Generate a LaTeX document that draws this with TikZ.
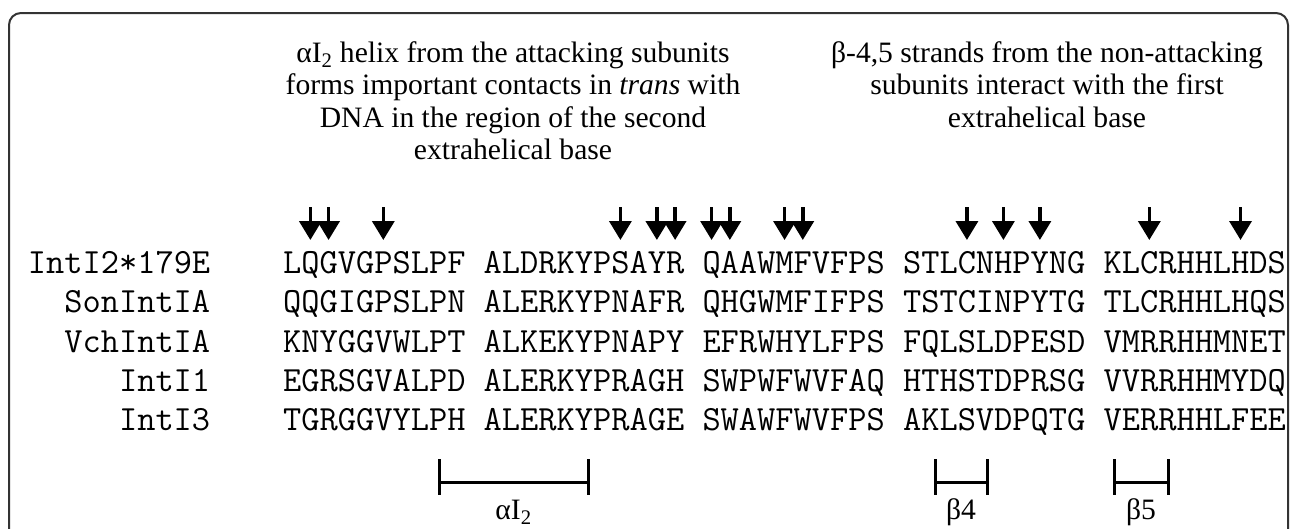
\documentclass[tikz,border=0pt]{standalone}
\usepackage{fontspec}
\setmainfont{Liberation Serif}
\usetikzlibrary{arrows.meta,positioning,calc}

\begin{document}
\begin{tikzpicture}[x=1pt,y=-1pt,node distance=39.25pt,>={Triangle[length=19pt,width=22pt]},
                    seq/.style={inner sep=0pt,font=\fontsize{35.4}{40}\ttfamily},
                    note/.style={inner sep=0pt,align=center,font=\fontsize{29.6}{32.5}\selectfont},
                    hit/.style={->,line width=3.5pt},
                    span/.style={line width=3pt}]
                    \useasboundingbox (0,0) rectangle (1290,528);
                    \draw[line width=2pt,black!80,rounded corners=12pt] (9,580) rectangle (1288,13);

                    % captions
                    \node[note,anchor=north] (capa) at (513,41) {αI\textsubscript{2} helix from the attacking subunits\\forms important contacts in \textit{trans} with\\DNA in the region of the second\\extrahelical base};
                    \node[note,anchor=north] (capb) at (1047,41) {β-4,5 strands from the non-attacking\\subunits interact with the first\\extrahelical base};

                    % alignment
                    \node[seq,anchor=base west] (s1) at (283,273.5) {LQGVGPSLPF ALDRKYPSAYR QAAWMFVFPS STLCNHPYNG KLCRHHLHDS};
                    \node[seq] (s2) [below of = s1] {QQGIGPSLPN ALERKYPNAFR QHGWMFIFPS TSTCINPYTG TLCRHHLHQS};
                    \node[seq] (s3) [below of = s2] {KNYGGVWLPT ALKEKYPNAPY EFRWHYLFPS FQLSLDPESD VMRRHHMNET};
                    \node[seq] (s4) [below of = s3] {EGRSGVALPD ALERKYPRAGH SWPWFWVFAQ HTHSTDPRSG VVRRHHMYDQ};
                    \node[seq] (s5) [below of = s4] {TGRGGVYLPH ALERKYPRAGE SWAWFWVFPS AKLSVDPQTG VERRHHLFEE};

                    \node[seq] (n1) [left=72.6pt of s1.base west,anchor=base east] {IntI2*179E};
                    \node[seq] (n2) [left=72.6pt of s2.base west,anchor=base east] {SonIntIA};
                    \node[seq] (n3) [left=72.6pt of s3.base west,anchor=base east] {VchIntIA};
                    \node[seq] (n4) [left=72.6pt of s4.base west,anchor=base east] {IntI1};
                    \node[seq] (n5) [left=72.6pt of s5.base west,anchor=base east] {IntI3};

                    % contact residues
                    \coordinate (top) at (0,207);
                    \coordinate (tip) at (0,240);
                    \foreach \c in {1,2,5,18,20,21,23,24,27,28,37,39,41,47,52} {
                        \coordinate (t\c) at ($(s1.base west)!{(\c+0.5)/55}!(s1.base east)$);
                        \draw[hit] (t\c |- top) -- (t\c |- tip);
                    }

                    % secondary structure
                    \coordinate (a1) at (439,482);
                    \coordinate (a2) at (588,482);
                    \coordinate (b1) at (935,482);
                    \coordinate (b2) at (987,482);
                    \coordinate (c1) at (1114,482);
                    \coordinate (c2) at (1168,482);
                    \draw[span] (a1) -- (a2);
                    \draw[span] (b1) -- (b2);
                    \draw[span] (c1) -- (c2);
                    \foreach \p in {a1,a2,b1,b2,c1,c2}
                        \draw[span] ([yshift=23pt]\p) -- ([yshift=-13pt]\p);

                    \node[note,anchor=base] (la) at (513.5,519) {αI\textsubscript{2}};
                    \node[note,anchor=base] (lb) at (961,519) {β4};
                    \node[note,anchor=base] (lc) at (1141,519) {β5};
\end{tikzpicture}
\end{document}
